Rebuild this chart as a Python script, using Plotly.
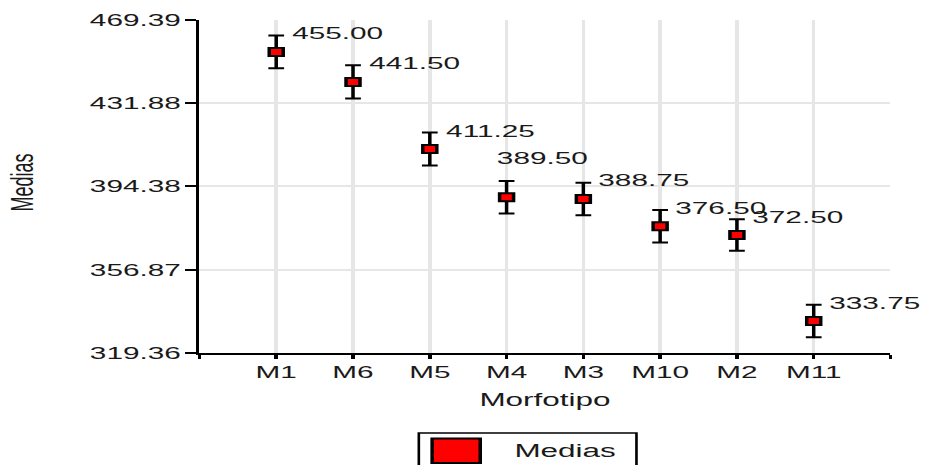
import plotly.graph_objects as go

# Mean of each morphotype with its error
categories = ["M1", "M6", "M5", "M4", "M3", "M10", "M2", "M11"]
medias = [455.00, 441.50, 411.25, 389.50, 388.75, 376.50, 372.50, 333.75]
errores = [7.4, 7.5, 7.4, 7.3, 7.3, 7.3, 7.1, 7.3]
y_ticks = [319.36, 356.87, 394.38, 431.88, 469.39]

FONT = "Liberation Sans, Arial, sans-serif"
TXT = "#1a1a1a"

W, H = 531, 465
ML, MR, MT, MB = 114, 22, 20, 112
STRETCH = 929 / W

xs = list(range(1, len(categories) + 1))

fig = go.Figure()
fig.add_trace(go.Scatter(
    x=xs, y=medias, mode="markers", name="Medias", showlegend=False,
    marker=dict(symbol="square", size=8, color="#ff0000",
                line=dict(color="black", width=2)),
    error_y=dict(type="data", array=errores, visible=True,
                 color="black", thickness=2, width=4.5),
    cliponaxis=False,
))

# value labels next to each mean; M4's label sits above to clear M3's
label_shift = {"M4": (-8, 39)}
for cat, x, v in zip(categories, xs, medias):
    dx, dy = label_shift.get(cat, (7, 18))
    fig.add_annotation(x=x, y=v, xref="x", yref="y", text=f"{v:.2f}",
                       showarrow=False, xanchor="left", yanchor="middle",
                       xshift=dx, yshift=dy,
                       font=dict(family=FONT, size=17, color=TXT))

pw = W - ML - MR
ph = H - MT - MB


def px(xp):
    return (xp - ML) / pw


def py(yp):
    return (H - MB - yp) / ph


# axis titles
fig.add_annotation(x=px(311.7), y=py(400), xref="paper", yref="paper",
                   xanchor="center", yanchor="middle",
                   text="Morfotipo", showarrow=False,
                   font=dict(family=FONT, size=18, color=TXT))
fig.add_annotation(x=px(12.6), y=py(183), xref="paper", yref="paper",
                   xanchor="center", yanchor="middle",
                   text="Medias", showarrow=False, textangle=-90,
                   font=dict(family=FONT, size=18, color=TXT))

# legend box
fig.add_shape(type="rect", xref="paper", yref="paper",
              x0=px(239.4), x1=px(363.8), y0=py(472), y1=py(433),
              line=dict(color="black", width=1.5), fillcolor="white")
fig.add_shape(type="rect", xref="paper", yref="paper",
              x0=px(247), x1=px(274.5), y0=py(463), y1=py(438.5),
              line=dict(color="black", width=2), fillcolor="#ff0000")
fig.add_annotation(x=px(322.6), y=py(451), xref="paper", yref="paper",
                   xanchor="center", yanchor="middle",
                   text="Medias", showarrow=False,
                   font=dict(family=FONT, size=18, color=TXT))

fig.update_layout(
    width=W, height=H,
    margin=dict(l=ML, r=MR, t=MT, b=MB, pad=0),
    paper_bgcolor="white", plot_bgcolor="white",
    font=dict(family=FONT, size=17, color=TXT),
    showlegend=False,
    xaxis=dict(
        range=[0, len(categories) + 1],
        tickmode="array",
        tickvals=list(range(0, len(categories) + 2)),
        ticktext=[""] + categories + [""],
        showgrid=True, gridcolor="#e6e6e6", gridwidth=2,
        showline=True, linecolor="black", linewidth=2,
        ticks="outside", ticklen=4, tickwidth=2, tickcolor="black",
        ticklabelstandoff=-1,
        zeroline=False,
        tickfont=dict(family=FONT, size=17, color=TXT),
    ),
    yaxis=dict(
        range=[y_ticks[0], y_ticks[-1]],
        tickmode="array",
        tickvals=y_ticks,
        ticktext=[f"{t:.2f}" for t in y_ticks],
        showgrid=True, gridcolor="#e6e6e6", gridwidth=2,
        showline=True, linecolor="black", linewidth=1.5,
        ticks="outside", ticklen=6.5, tickwidth=2, tickcolor="black",
        ticklabelstandoff=-1,
        zeroline=False,
        tickfont=dict(family=FONT, size=17, color=TXT),
    ),
)

post = (
    "var d=document.getElementById('{plot_id}');"
    "document.body.style.margin='0';"
    "document.body.style.overflow='hidden';"
    "d.style.transformOrigin='0 0';"
    f"d.style.transform='scaleX({STRETCH:.4f})';"
)

fig.write_html("out.html", post_script=post)
